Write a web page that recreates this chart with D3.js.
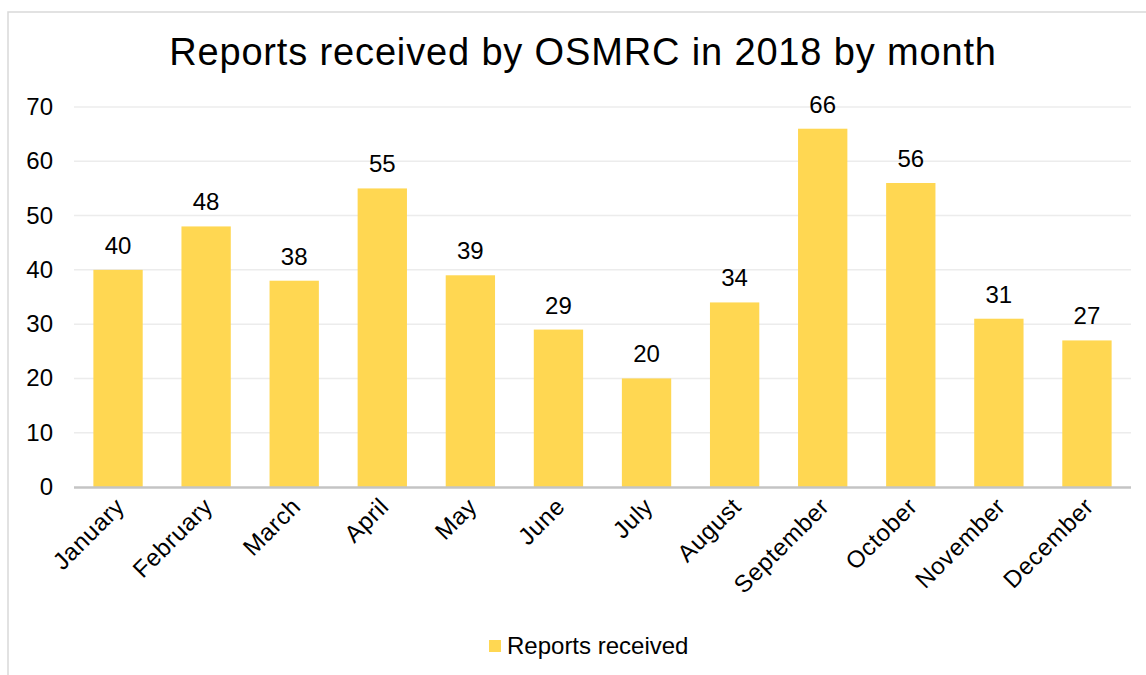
<!DOCTYPE html>
<html>
<head>
<meta charset="utf-8">
<script src="https://cdn.jsdelivr.net/npm/d3@7"></script>
<style>
  body { margin: 0; background: #fff; }
  svg { font-family: "Liberation Sans", Arial, sans-serif; }
</style>
</head>
<body>
<svg id="chart" width="1146" height="675"></svg>
<script>
// data
var months = ["January", "February", "March", "April", "May", "June", "July",
              "August", "September", "October", "November", "December"];
var reports = [40, 48, 38, 55, 39, 29, 20, 34, 66, 56, 31, 27];
var yTicks = [0, 10, 20, 30, 40, 50, 60, 70];
var seriesName = "Reports received";

var svg = d3.select("#chart");
var plot = {left: 74, right: 1131, top: 107, bottom: 487};
var fs = 24;

// outer frame
svg.append("rect").attr("x", 8).attr("y", 12).attr("width", 1150).attr("height", 700)
  .attr("fill", "none").attr("stroke", "#d9d9d9").attr("stroke-width", 1.5);

svg.append("text").attr("x", 583).attr("y", 65).attr("text-anchor", "middle")
  .attr("font-size", 38).attr("fill", "#000").attr("letter-spacing", 0.85)
  .text("Reports received by OSMRC in 2018 by month");

var x = d3.scaleBand().domain(months).range([plot.left, plot.right]).paddingInner(0.44).paddingOuter(0.22);
var y = d3.scaleLinear().domain([0, 70]).range([plot.bottom, plot.top]);

// gridlines
svg.append("g").selectAll("line").data(yTicks.slice(1)).join("line")
  .attr("x1", plot.left).attr("x2", plot.right)
  .attr("y1", d => y(d)).attr("y2", d => y(d))
  .attr("stroke", "#ececec").attr("stroke-width", 1.5);

// y labels
svg.append("g").selectAll("text").data(yTicks).join("text")
  .attr("x", 53).attr("y", d => y(d) + 8).attr("text-anchor", "end")
  .attr("font-size", fs).text(d => d);

// bars
svg.append("g").selectAll("rect").data(reports).join("rect")
  .attr("x", (d, i) => x(months[i])).attr("width", x.bandwidth())
  .attr("y", d => y(d)).attr("height", d => y(0) - y(d))
  .attr("fill", "#ffd752");

// value labels
svg.append("g").selectAll("text").data(reports).join("text")
  .attr("x", (d, i) => x(months[i]) + x.bandwidth() / 2).attr("y", d => y(d) - 16)
  .attr("text-anchor", "middle").attr("font-size", fs).text(d => d);

// x axis line
svg.append("line").attr("x1", plot.left).attr("x2", plot.right)
  .attr("y1", plot.bottom + 0.5).attr("y2", plot.bottom + 0.5)
  .attr("stroke", "#c4c4c4").attr("stroke-width", 2.5);

// x labels
svg.append("g").selectAll("text").data(months).join("text")
  .attr("transform", d => "translate(" + (x(d) + x.bandwidth() / 2 + 8) + "," + 508 + ") rotate(-45)")
  .attr("text-anchor", "end").attr("font-size", fs).attr("letter-spacing", 0.6).text(d => d);

// legend
svg.append("rect").attr("x", 489).attr("y", 640).attr("width", 12).attr("height", 12).attr("fill", "#ffd752");
svg.append("text").attr("x", 507).attr("y", 654).attr("font-size", fs).text(seriesName);
</script>
</body>
</html>
